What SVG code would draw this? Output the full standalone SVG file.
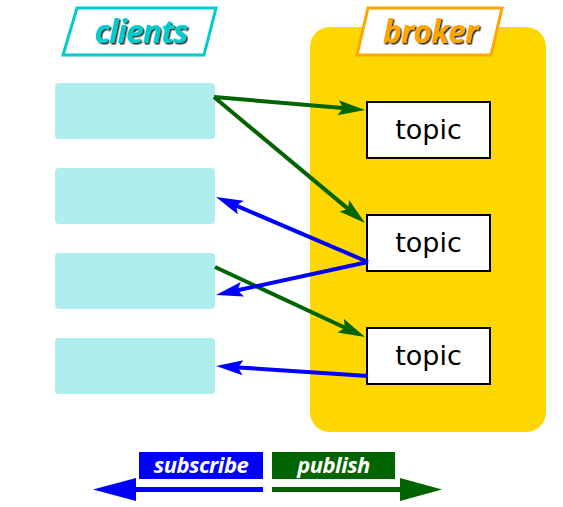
<svg xmlns="http://www.w3.org/2000/svg" width="563" height="507" viewBox="0 0 563 507">
<style>
.client{fill:#AFEEEE}
.topic rect{fill:#fff;stroke:#000;stroke-width:2}
.topic text{font-family:"DejaVu Sans",sans-serif;font-size:27px;fill:#000;text-anchor:middle}
.pub{stroke:#006400;stroke-width:4;fill:none;marker-end:url(#ag)}
.sub{stroke:#0000FF;stroke-width:4;fill:none;marker-end:url(#ab)}
.lbl{font-family:"Open Sans","Liberation Sans",sans-serif;font-weight:bold;font-style:italic;text-anchor:middle}
</style>
<defs>
<marker id="ag" markerUnits="userSpaceOnUse" markerWidth="28" markerHeight="16" refX="5" refY="7.5" orient="auto" viewBox="0 0 28 16">
<path d="M0,0 L27,7.5 L0,15 L5,7.5 z" fill="#006400"/>
</marker>
<marker id="ab" markerUnits="userSpaceOnUse" markerWidth="28" markerHeight="16" refX="5" refY="7.5" orient="auto" viewBox="0 0 28 16">
<path d="M0,0 L27,7.5 L0,15 L5,7.5 z" fill="#0000FF"/>
</marker>
<filter id="sh" x="-10%" y="-20%" width="130%" height="150%">
<feDropShadow dx="1.5" dy="1.5" stdDeviation="0.6" flood-color="#000" flood-opacity="0.8"/>
</filter>
</defs>
<g id="broker">
<rect x="310" y="27" width="236" height="405" rx="20" fill="#FFD700"/>
</g>
<g id="clients-label">
<polygon points="77,8 216,8 204,55 63,55" fill="#fff" stroke="#00CCCC" stroke-width="3"/>
<text class="lbl" x="141" y="43" font-size="32" letter-spacing="-1" fill="#00CCCC" filter="url(#sh)">clients</text>
</g>
<g id="broker-label">
<polygon points="368,8 502,8 491,55 357,55" fill="#fff" stroke="#FFA500" stroke-width="3"/>
<text class="lbl" x="430" y="43" font-size="32" letter-spacing="-1" fill="#FFA500" filter="url(#sh)">broker</text>
</g>
<g id="client1"><rect class="client" x="55" y="83" width="160" height="56" rx="4"/></g>
<g id="client2"><rect class="client" x="55" y="168" width="160" height="56" rx="4"/></g>
<g id="client3"><rect class="client" x="55" y="253" width="160" height="56" rx="4"/></g>
<g id="client4"><rect class="client" x="55" y="338" width="160" height="56" rx="4"/></g>
<g id="topic1" class="topic"><rect x="367" y="102" width="123" height="56"/><text x="428.5" y="139">topic</text></g>
<g id="topic2" class="topic"><rect x="367" y="215" width="123" height="56"/><text x="428.5" y="252">topic</text></g>
<g id="topic3" class="topic"><rect x="367" y="328" width="123" height="56"/><text x="428.5" y="365">topic</text></g>
<g id="connectors">
<path class="pub" d="M214,97 L343.1,108.1"/>
<path class="pub" d="M214,97 L348.1,208.9"/>
<path class="pub" d="M215,267 L345.1,327.7"/>
<path class="sub" d="M368,262 L236.2,205.6"/>
<path class="sub" d="M368,262 L237.5,290.3"/>
<path class="sub" d="M368,376 L238,367.4"/>
</g>
<g id="legend">
<rect x="139" y="452" width="124" height="27" fill="#0000FF"/>
<text class="lbl" x="201" y="473" font-size="22" letter-spacing="-0.5" fill="#fff">subscribe</text>
<rect x="272" y="452" width="123" height="27" fill="#006400"/>
<text class="lbl" x="333.5" y="473" font-size="22" letter-spacing="-0.5" fill="#fff">publish</text>
<rect x="134" y="487" width="129" height="5" fill="#0000FF"/>
<polygon points="93,489.5 136,478 136,501" fill="#0000FF"/>
<rect x="272" y="487" width="129" height="5" fill="#006400"/>
<polygon points="442,489.5 400,478 400,501" fill="#006400"/>
</g>
</svg>
